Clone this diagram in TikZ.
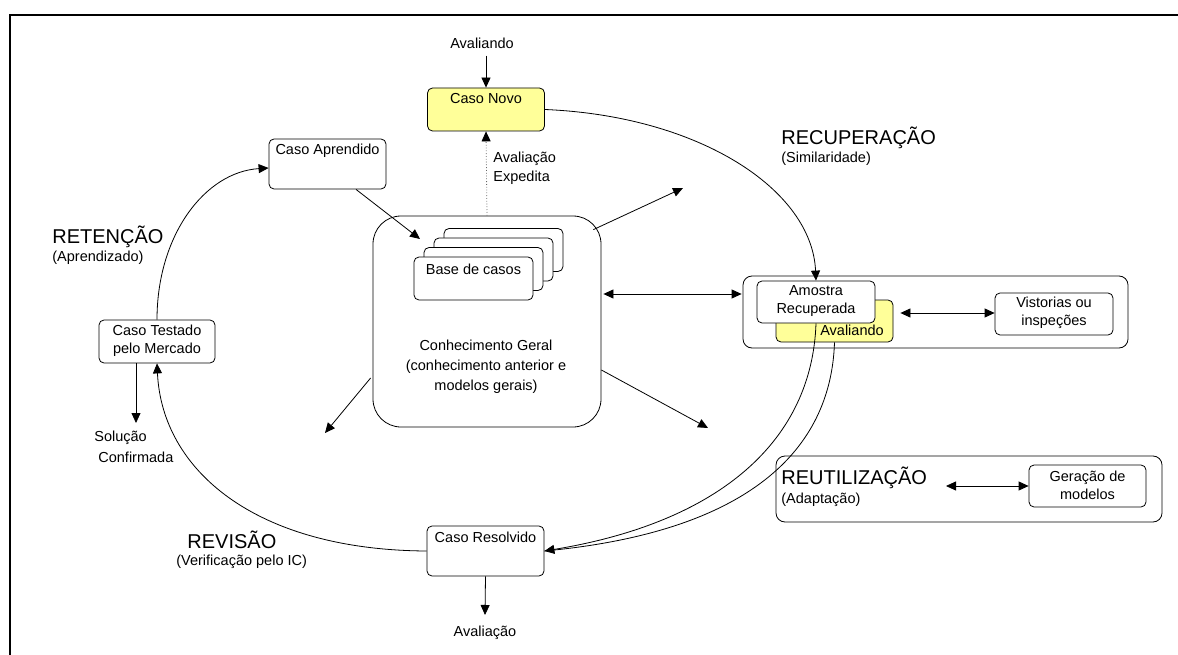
\documentclass[tikz,border=0pt]{standalone}
\usepackage{fontspec}
\setmainfont{Liberation Sans}
\usetikzlibrary{arrows.meta,calc}
\definecolor{paleyellow}{HTML}{FFFF99}
\begin{document}
\begin{tikzpicture}[x=1pt,y=-1pt,line width=0.8pt,
  tip/.style={-{Triangle[length=10pt,width=9pt,color=black]}},
  dtip/.style={{Triangle[length=10pt,width=9pt]}-{Triangle[length=10pt,width=9pt]}},
  box/.style={draw, rounded corners=5pt, inner sep=0pt, fill=white},
  ybox/.style={box, fill=paleyellow},
  note/.style={inner sep=0pt, font=\fontsize{14.5}{18}\selectfont, align=center},
  notel/.style={note, align=left, anchor=west},
  big/.style={inner sep=0pt, anchor=west, font=\fontsize{20}{24}\selectfont},
]
\useasboundingbox (0,0) rectangle (1178,655);

% frame
\draw[line width=2pt] (10,655) -- (10,15) -- (1178,15);

% ---- boxes ----
\node[ybox, minimum width=117pt, minimum height=43pt] (novo) at (486,109.5) {};
\node[note] (novoT) at (486,99) {Caso Novo};
\node[box, minimum width=117pt, minimum height=50pt] (aprend) at (327.5,164) {};
\node[note] (aprendT) at (327.5,151) {Caso Aprendido};
\node[box, minimum width=116pt, minimum height=43pt] (testado) at (157,341.5) {};
\node[note] (testadoT) at (157,341) {Caso Testado\\pelo Mercado};
\node[box, minimum width=117pt, minimum height=50pt] (resolv) at (485.5,551) {};
\node[note] (resolvT) at (485.5,537) {Caso Resolvido};

% general knowledge with its stack of case bases
\node[box, rounded corners=28pt, minimum width=228pt, minimum height=211pt] (conh) at (487,321.5) {};
\node[box, minimum width=119pt, minimum height=43pt] (base4) at (503.5,250) {};
\node[box, minimum width=119pt, minimum height=43pt] (base3) at (493.5,259.5) {};
\node[box, minimum width=119pt, minimum height=43pt] (base2) at (483.5,269) {};
\node[box, minimum width=119pt, minimum height=43pt] (base1) at (473.5,278.5) {};
\node[note] (baseT) at (473.5,269) {Base de casos};
\node[note, font=\fontsize{14.5}{20}\selectfont] (conhT) at (486,367)
  {Conhecimento Geral\\(conhecimento anterior e\\modelos gerais)};

% retrieval group
\node[box, rounded corners=9pt, minimum width=385pt, minimum height=72pt] (retr) at (935.5,312) {};
\node[ybox, minimum width=117pt, minimum height=42pt] (yell) at (834.5,321) {};
\node[note] (yellT) at (852,330) {Avaliando};
\node[box, minimum width=118pt, minimum height=42pt] (amostra) at (816,302) {};
\node[note] (amostraT) at (816,301) {Amostra\\Recuperada};
\node[box, minimum width=118pt, minimum height=42pt] (vist) at (1054,314) {};
\node[note] (vistT) at (1054,313) {Vistorias ou\\inspeções};

% reuse group
\node[box, rounded corners=9pt, minimum width=386pt, minimum height=66pt] (reuse) at (969,489) {};
\node[box, minimum width=117pt, minimum height=42pt] (geracao) at (1087.5,486) {};
\node[note] (geracaoT) at (1087.5,485) {Geração de\\modelos};

% ---- texts ----
\node[note] (avTop) at (482,43) {Avaliando};
\node[notel, font=\fontsize{14.5}{19}\selectfont] (expT) at (493,168.5) {Avaliação\\Expedita};
\node[big] (retT) at (52,237) {RETENÇÃO};
\node[notel] (retS) at (52,258) {(Aprendizado)};
\node[big] (recT) at (781,138) {RECUPERAÇÃO};
\node[notel] (recS) at (781,159) {(Similaridade)};
\node[big] (revT) at (187,540) {REVISÃO};
\node[notel] (revS) at (176,562) {(Verificação pelo IC)};
\node[big] (reuT) at (781,478) {REUTILIZAÇÃO};
\node[notel] (reuS) at (781,500) {(Adaptação)};
\node[notel] (solT) at (94,438) {Solução};
\node[notel] (confT) at (98,457) {Confirmada};
\node[note] (avBot) at (485,633) {Avaliação};

% ---- free arrow ends ----
\coordinate (solEnd) at (136,423);
\coordinate (avalEnd) at (485,615);
\coordinate (endUR) at (683,188);
\coordinate (endLR) at (708,428);
\coordinate (endLL) at (325,433);
\coordinate (baseEnd) at (420,239);
\coordinate (reuArr) at (946,486);

% ---- connectors ----
\draw[tip] (novo.north |- avTop.south) ++(0,7) -- (novo.north);
\draw[tip, dotted, draw=black!60] (conh.north) -- (novo.south);
\draw[tip] ($(aprend.south)+(28.5,0)$) -- (baseEnd);
\draw[tip] (testado.north) .. controls (157,235) and (205,172) .. ($(aprend.west)+(0,4)$);
\draw[tip] ($(testado.south)+(-21,0)$) -- (solEnd);
\draw[tip] (resolv.west) .. controls (255,550) and (162,470) .. (testado.south);
\draw[tip] (resolv.south) -- (avalEnd);

\draw[tip] ($(conh.north east)+(-8,14)$) -- (endUR);
\draw[tip] ($(conh.east)+(0,48.5)$) -- (endLR);
\draw[tip] ($(conh.west)+(-2,56.5)$) -- (endLL);
\draw[dtip] ($(conh.east)+(2,-27.5)$) -- ($(retr.west)+(-1,-18)$);

\draw[tip] (novo.east) .. controls (700,116) and (812,190) .. (amostra.north);
\draw (yell.south) .. controls (831,450) and (749,532) .. (resolv.east);
\draw[tip] (amostra.south) .. controls (812,440) and (721,522) .. (resolv.east);
\draw[dtip] ($(yell.east)+(7,-8)$) -- (vist.west |- 0,313);
\draw[dtip] (reuArr) -- (geracao.west);
\end{tikzpicture}
\end{document}
